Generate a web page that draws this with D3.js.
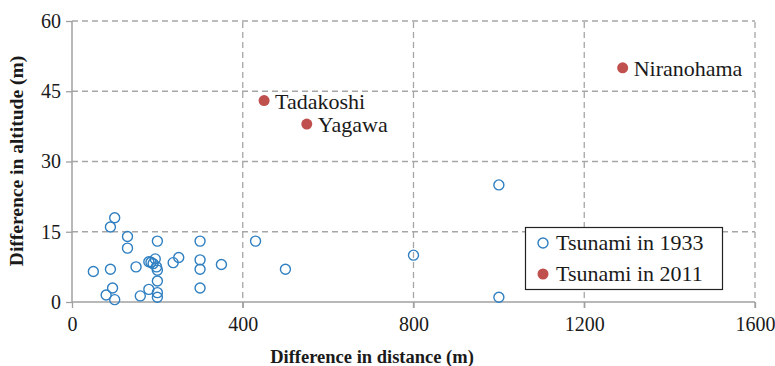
<!DOCTYPE html>
<html>
<head>
<meta charset="utf-8">
<script src="https://cdn.jsdelivr.net/npm/d3@7"></script>
<style>
  html, body { margin: 0; padding: 0; background: #fff; }
  svg { display: block; }
</style>
</head>
<body>
<svg id="chart" width="775" height="366"></svg>
<script>
// Tsunami run-up sites: horizontal distance vs. altitude difference
const xTicks = [0, 400, 800, 1200, 1600];
const yTicks = [0, 15, 30, 45, 60];

const distance1933 = [100, 90, 130, 130, 200, 300, 430, 50, 90, 150, 180, 185, 195, 190, 198, 200, 200,
                      237, 250, 300, 300, 350, 300, 95, 80, 100, 160, 180, 200, 200, 500, 800, 1000, 1000];
const altitude1933 = [18, 16, 14, 11.5, 13, 13, 13, 6.5, 7, 7.5, 8.6, 8.5, 9.2, 8.2, 7.5, 6.8, 4.5,
                      8.4, 9.5, 9, 7, 8, 3, 3, 1.5, 0.5, 1.3, 2.7, 2, 1, 7, 10, 25, 1];

const sites2011 = ["Tadakoshi", "Yagawa", "Niranohama"];
const distance2011 = [450, 550, 1290];
const altitude2011 = [43, 38, 50];

const seriesNames = ["Tsunami in 1933", "Tsunami in 2011"];

const blue = "#2f7fc1", red = "#c0504d", grid = "#a6a6a6", axisCol = "#a0a0a0", ink = "#1a1a1a";
const serif = "Liberation Serif";

const svg = d3.select("#chart");
const x = d3.scaleLinear().domain([0, 1600]).range([72, 755]);
const y = d3.scaleLinear().domain([0, 60]).range([302, 21]);

// dashed grid
svg.append("g").selectAll("line").data(yTicks.filter(d => d > 0)).join("line")
  .attr("x1", x(0)).attr("x2", x(1600))
  .attr("y1", d => y(d)).attr("y2", d => y(d))
  .attr("stroke", grid).attr("stroke-width", 1.3).attr("stroke-dasharray", "6,4");
svg.append("g").selectAll("line").data(xTicks.filter(d => d > 0)).join("line")
  .attr("x1", d => x(d)).attr("x2", d => x(d))
  .attr("y1", y(0) + 6).attr("y2", y(60))
  .attr("stroke", grid).attr("stroke-width", 1.3).attr("stroke-dasharray", "6,4");

// axes
const xAxis = svg.append("g").attr("transform", `translate(0,${y(0)})`)
  .call(d3.axisBottom(x).tickValues(xTicks).tickFormat(d3.format("d")).tickSizeOuter(0).tickSize(6).tickPadding(9));
const yAxis = svg.append("g").attr("transform", `translate(${x(0)},0)`)
  .call(d3.axisLeft(y).tickValues(yTicks).tickFormat(d3.format("d")).tickSizeOuter(0).tickSize(6).tickPadding(5));
[xAxis, yAxis].forEach(g => {
  g.attr("font-family", serif).attr("font-size", 20);
  g.select(".domain").attr("stroke", axisCol).attr("stroke-width", 1.5);
  g.selectAll(".tick line").attr("stroke", axisCol).attr("stroke-width", 1.3);
  g.selectAll(".tick text").attr("fill", ink);
});
yAxis.select(".domain").attr("d", `M0,${y(0)}V${y(60)}`);
xAxis.select(".domain").attr("d", `M0,0H${x(1600) - x(0)}`).attr("transform", `translate(${x(0)},0)`);

// axis titles
svg.append("text").attr("x", 372).attr("y", 363).attr("text-anchor", "middle")
  .attr("font-family", serif).attr("font-weight", "bold").attr("font-size", 18.5).attr("fill", ink)
  .text("Difference in distance (m)");
svg.append("text").attr("transform", "translate(23,161) rotate(-90)").attr("text-anchor", "middle")
  .attr("font-family", serif).attr("font-weight", "bold").attr("font-size", 19.5).attr("fill", ink)
  .text("Difference in altitude (m)");

// 1933 points
svg.append("g").selectAll("circle").data(distance1933.map((d, i) => [d, altitude1933[i]])).join("circle")
  .attr("cx", d => x(d[0])).attr("cy", d => y(d[1])).attr("r", 5)
  .attr("fill", "none").attr("stroke", blue).attr("stroke-width", 1.4);

// 2011 points with site labels
const pts2011 = sites2011.map((s, i) => ({ name: s, d: distance2011[i], a: altitude2011[i] }));
svg.append("g").selectAll("circle").data(pts2011).join("circle")
  .attr("cx", d => x(d.d)).attr("cy", d => y(d.a)).attr("r", 5.5).attr("fill", red);
svg.append("g").selectAll("text").data(pts2011).join("text")
  .attr("x", d => x(d.d) + 11).attr("y", d => y(d.a) + 8)
  .attr("font-family", serif).attr("font-size", 22).attr("fill", ink).text(d => d.name);

// legend
const lg = svg.append("g");
lg.append("rect").attr("x", 525.5).attr("y", 227.5).attr("width", 197).attr("height", 62)
  .attr("fill", "#fff").attr("stroke", "#222").attr("stroke-width", 1.2);
lg.append("circle").attr("cx", 543).attr("cy", 243).attr("r", 5)
  .attr("fill", "none").attr("stroke", blue).attr("stroke-width", 1.4);
lg.append("circle").attr("cx", 543).attr("cy", 274).attr("r", 5.5).attr("fill", red);
lg.selectAll("text").data(seriesNames).join("text")
  .attr("x", 556).attr("y", (d, i) => 250 + i * 31)
  .attr("font-family", serif).attr("font-size", 22).attr("fill", ink).text(d => d);
</script>
</body>
</html>
